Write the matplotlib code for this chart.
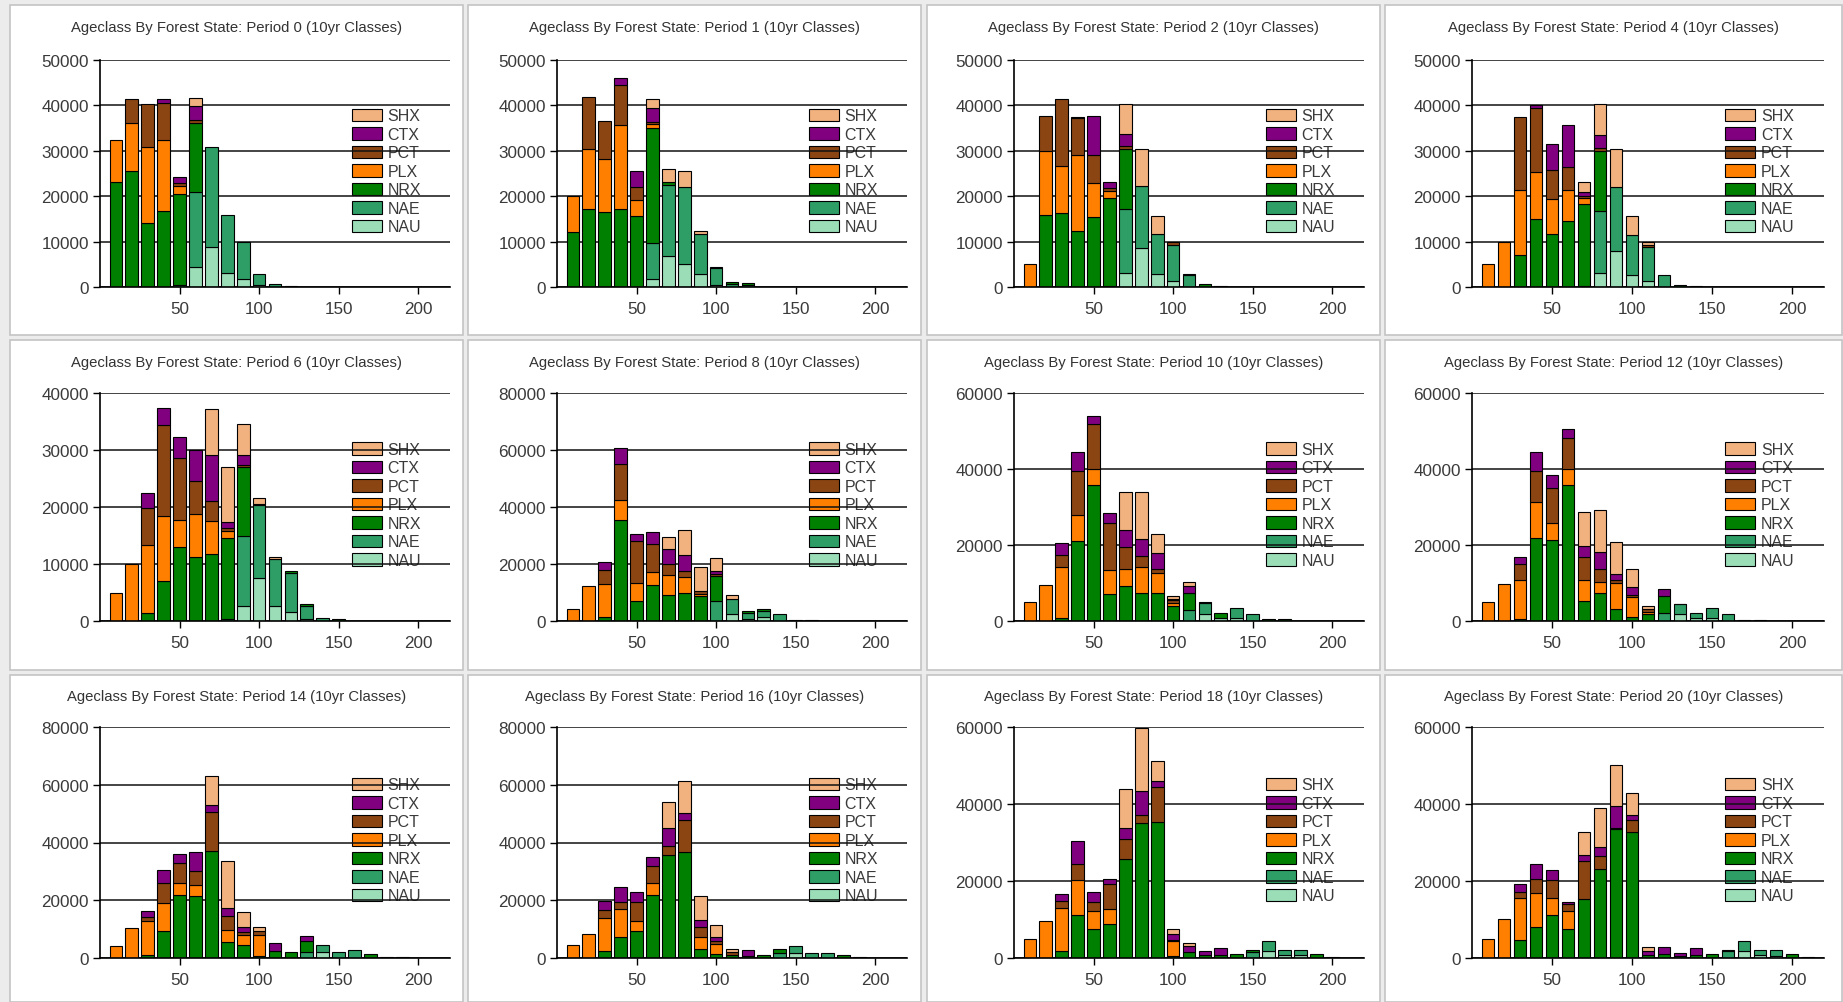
import numpy as np
import matplotlib
matplotlib.use("Agg")
import matplotlib.pyplot as plt
from matplotlib.patches import Patch, Rectangle
from matplotlib.ticker import FuncFormatter

plt.rcParams['font.family'] = ['Liberation Sans', 'DejaVu Sans']

# age classes (10yr) and forest state types, bottom of the stack first
AGES = np.arange(10, 220, 10)
TYPES = ["NAU", "NAE", "NRX", "PLX", "PCT", "CTX", "SHX"]
COLORS = {
    "SHX": "#F2B27F",
    "CTX": "#800080",
    "PCT": "#8B4513",
    "PLX": "#FF8000",
    "NRX": "#008000",
    "NAE": "#2E9E66",
    "NAU": "#9ADDB6",
}

# each row is one age class (10, 20, 30 ...): NAU, NAE, NRX, PLX, PCT, CTX, SHX
period_0 = [
    (0, 0, 23200, 9200),
    (0, 0, 25600, 10600, 5200),
    (0, 0, 14100, 16800, 9500),
    (0, 0, 16800, 15600, 8100, 900),
    (0, 400, 20100, 1700, 700, 1300),
    (4400, 16500, 15300, 0, 600, 3000, 1800),
    (8800, 22100),
    (3100, 12800),
    (1700, 8200),
    (400, 2500),
    (0, 600),
    (0, 0, 300),
]
period_1 = [
    (0, 0, 12100, 7900),
    (0, 0, 17100, 13400, 11400),
    (0, 0, 16500, 11700, 8300),
    (0, 0, 17100, 18600, 8700, 1600),
    (0, 0, 15600, 3500, 2900, 3600),
    (1700, 8000, 25300, 800, 600, 3100, 1900),
    (6800, 15700, 600, 0, 0, 0, 2900),
    (5100, 17000, 0, 0, 0, 0, 3500),
    (2900, 8700, 0, 0, 0, 0, 800),
    (400, 3800, 300),
    (0, 700, 400),
    (0, 500, 400),
]
period_2 = [
    (0, 0, 0, 5000),
    (0, 0, 15900, 14100, 7600),
    (0, 0, 16300, 10400, 14700),
    (0, 0, 12300, 16800, 8200, 200),
    (0, 0, 15400, 7500, 6200, 8600),
    (0, 300, 19400, 1400, 700, 1300),
    (3100, 14000, 13400, 0, 600, 2700, 6600),
    (8600, 13700, 0, 0, 0, 0, 8100),
    (2900, 8800, 0, 0, 0, 0, 3900),
    (1300, 7900, 0, 0, 700),
    (0, 2600, 300),
    (0, 0, 600),
    (0, 0, 300),
]
period_4 = [
    (0, 0, 0, 5000),
    (0, 0, 0, 9900),
    (0, 0, 7100, 14300, 16100),
    (0, 0, 15000, 10300, 14200, 500),
    (0, 0, 11700, 7700, 6400, 5800),
    (0, 0, 14600, 6800, 5100, 9200),
    (0, 300, 18000, 1300, 500, 900, 2100),
    (3100, 13700, 13200, 0, 700, 2800, 6900),
    (7900, 14200, 0, 0, 0, 0, 8300),
    (2600, 8900, 0, 0, 0, 0, 4100),
    (1300, 7500, 0, 0, 400, 0, 700),
    (0, 2600),
    (0, 0, 500),
    (0, 0, 200),
]
period_6 = [
    (0, 0, 0, 5000),
    (0, 0, 0, 10000),
    (0, 0, 1400, 11900, 6600, 2500),
    (0, 0, 7000, 11400, 15900, 3100),
    (0, 0, 13000, 4800, 10800, 3600),
    (0, 0, 11300, 7400, 5800, 5500),
    (0, 0, 11700, 5800, 3600, 8100, 8000),
    (0, 400, 14200, 1200, 600, 900, 9700),
    (2700, 12200, 12100, 0, 400, 1800, 5400),
    (7500, 12900, 0, 200, 0, 0, 1000),
    (2600, 8200, 0, 0, 0, 0, 500),
    (1600, 6900, 300),
    (400, 2200, 300),
    (0, 500),
    (0, 0, 300),
]
period_8 = [
    (0, 0, 0, 4300),
    (0, 0, 0, 12300),
    (0, 0, 1500, 11600, 4700, 3000),
    (0, 0, 35600, 6800, 12800, 5500),
    (0, 0, 7000, 6400, 14600, 2700),
    (0, 0, 12600, 4600, 9700, 4300),
    (0, 0, 9000, 7000, 4100, 5000, 4400),
    (0, 0, 9900, 5500, 2100, 5600, 8800),
    (0, 0, 8800, 800, 900, 0, 8400),
    (0, 7000, 8800, 0, 600, 1100, 4700),
    (2300, 5300, 0, 0, 0, 0, 1500),
    (600, 2300, 600),
    (1400, 2100, 800),
    (0, 2600),
    (0, 0, 500),
    (0, 0, 400),
]
period_10 = [
    (0, 0, 0, 5000),
    (0, 0, 0, 9600),
    (0, 0, 900, 13400, 3200, 2900),
    (0, 0, 21000, 7000, 11400, 5100),
    (0, 0, 35900, 4100, 11900, 2100),
    (0, 0, 7000, 6400, 12400, 2500),
    (0, 0, 9200, 4400, 5800, 4500, 10000),
    (0, 0, 7400, 6800, 2900, 4400, 12400),
    (0, 0, 7400, 5300, 1100, 4200, 4900),
    (0, 0, 3900, 900, 600, 300, 1000),
    (0, 2800, 4600, 0, 0, 1800, 1100),
    (1900, 2900, 300),
    (900, 0, 1300),
    (900, 2400),
    (0, 1900),
    (0, 0, 400),
    (0, 0, 400),
]
period_12 = [
    (0, 0, 0, 5000),
    (0, 0, 0, 9800),
    (0, 0, 400, 10300, 4400, 1800),
    (0, 0, 21900, 9400, 8100, 5100),
    (0, 0, 21200, 4500, 9200, 3400),
    (0, 0, 35900, 4100, 8200, 2400),
    (0, 0, 5300, 5500, 6100, 2800, 8900),
    (0, 0, 7400, 2900, 3500, 4300, 11200),
    (0, 0, 3200, 6900, 600, 1700, 8400),
    (0, 0, 1100, 5200, 500, 2100, 4700),
    (0, 0, 1900, 500, 700, 0, 800),
    (0, 2200, 4400, 0, 0, 1900),
    (1900, 2500, 200),
    (800, 1400),
    (800, 2500),
    (0, 1900),
    (0, 0, 300),
    (0, 0, 300),
]
period_14 = [
    (0, 0, 0, 4300),
    (0, 0, 0, 10400),
    (0, 0, 1200, 11500, 1500, 2200),
    (0, 0, 9500, 9500, 7000, 4400),
    (0, 0, 21900, 4100, 6900, 3200),
    (0, 0, 21400, 4000, 4600, 6700),
    (0, 0, 36900, 0, 13500, 2500, 10200),
    (0, 0, 5400, 4400, 4600, 2900, 16200),
    (0, 0, 4600, 3500, 800, 1800, 5100),
    (0, 0, 800, 7100, 1300, 0, 1500),
    (0, 0, 2300, 0, 0, 2900),
    (0, 0, 2000),
    (0, 2000, 3800, 0, 0, 1700),
    (2000, 2600),
    (0, 2000),
    (0, 2700),
    (0, 0, 1300),
    (0, 0, 400),
    (0, 0, 400),
]
period_16 = [
    (0, 0, 0, 4600),
    (0, 0, 0, 8300),
    (0, 0, 2300, 11600, 2600, 3100),
    (0, 0, 7300, 9700, 2300, 5300),
    (0, 0, 9200, 3500, 6700, 3300),
    (0, 0, 21700, 4300, 6000, 2900),
    (0, 0, 35800, 0, 2900, 6300, 8900),
    (0, 0, 36600, 0, 11100, 2500, 11000),
    (0, 0, 3100, 4200, 3300, 2400, 8400),
    (0, 0, 1500, 3500, 1000, 1200, 4300),
    (0, 0, 1200, 0, 1000, 0, 1000),
    (0, 0, 800, 0, 0, 2000),
    (0, 0, 1200),
    (0, 1600, 1500),
    (1700, 2600),
    (0, 1800),
    (0, 1800),
    (0, 0, 1000),
    (0, 0, 300),
]
period_18 = [
    (0, 0, 0, 4900),
    (0, 0, 0, 9500),
    (0, 0, 1700, 11300, 1900, 1800),
    (0, 0, 11100, 9200, 4200, 5800),
    (0, 0, 7600, 4500, 2400, 2600),
    (0, 0, 8900, 3800, 6600, 1200),
    (0, 0, 25700, 0, 5300, 2800, 10100),
    (0, 0, 35100, 0, 2100, 6100, 16400),
    (0, 0, 35300, 0, 9000, 1800, 5000),
    (0, 0, 600, 3700, 500, 1400, 1400),
    (0, 0, 1500, 0, 0, 1500, 900),
    (0, 0, 800, 0, 0, 900),
    (0, 0, 700, 0, 0, 2000),
    (0, 0, 1000),
    (0, 1500, 500),
    (1900, 2400),
    (800, 1200),
    (700, 1300),
    (0, 0, 1000),
    (0, 0, 300),
]
period_20 = [
    (0, 0, 0, 4900),
    (0, 0, 0, 10100),
    (0, 0, 4800, 10800, 1500, 2200),
    (0, 0, 8000, 8900, 3600, 3900),
    (0, 0, 11100, 4500, 4600, 2700),
    (0, 0, 7600, 4500, 2000, 500),
    (0, 0, 15300, 0, 10000, 1500, 5900),
    (0, 0, 23200, 0, 3200, 2400, 10200),
    (0, 0, 33500, 0, 300, 5600, 10800),
    (0, 0, 32600, 0, 3200, 1400, 5700),
    (0, 0, 900, 0, 0, 1000, 1000),
    (0, 0, 1000, 0, 0, 1900),
    (0, 0, 600, 0, 0, 800),
    (0, 0, 700, 0, 0, 1800),
    (0, 0, 1000),
    (0, 1700, 500),
    (1700, 2600),
    (800, 1400),
    (600, 1600),
    (0, 0, 1000),
    (0, 0, 300),
]

PERIODS = [0, 1, 2, 4, 6, 8, 10, 12, 14, 16, 18, 20]
PERIOD_DATA = [period_0, period_1, period_2, period_4, period_6, period_8,
               period_10, period_12, period_14, period_16, period_18, period_20]
Y_MAX = [50000, 50000, 50000, 50000, 40000, 80000, 60000, 60000, 80000, 80000, 60000, 60000]
Y_STEP = [10000, 10000, 10000, 10000, 10000, 20000, 20000, 20000, 20000, 20000, 20000, 20000]


def to_table(rows):
    """Pad the per-age rows into a full (age class x type) table"""
    table = np.zeros((len(AGES), len(TYPES)))
    for i, row in enumerate(rows):
        table[i, :len(row)] = row
    return table


W, H = 1843, 1003
fig = plt.figure(figsize=(W / 100, H / 100), dpi=100, facecolor='#ececec')

# panel frames and plot areas in pixels
panel_x = [(10, 463), (468, 921), (927, 1380), (1385, 1842)]
panel_y = [(6, 336), (341, 671), (676, 1003)]
axes_x = [(100, 450), (557, 907), (1014, 1364), (1472, 1824)]
axes_y = [(61, 288), (394, 622), (728, 959)]
title_y = [28, 363, 697]

for k, (period, rows) in enumerate(zip(PERIODS, PERIOD_DATA)):
    r, c = divmod(k, 4)
    px0, px1 = panel_x[c]
    py0, py1 = panel_y[r]
    fig.add_artist(Rectangle((px0 / W, 1 - py1 / H), (px1 - px0) / W, (py1 - py0) / H,
                             transform=fig.transFigure, facecolor='white',
                             edgecolor='#c4c4c4', lw=1.2, zorder=-5))
    fig.text((px0 + px1) / 2 / W, 1 - title_y[r] / H,
             f'Ageclass By Forest State: Period {period} (10yr Classes)',
             ha='center', va='center', fontsize=10.7, color='#333333')

    ax0, ax1 = axes_x[c]
    ay0, ay1 = axes_y[r]
    ax = fig.add_axes([ax0 / W, 1 - ay1 / H, (ax1 - ax0) / W, (ay1 - ay0) / H])
    ax.set_facecolor('none')

    table = to_table(rows)
    bottom = np.zeros(len(AGES))
    for j, t in enumerate(TYPES):
        vals = table[:, j]
        m = vals > 0
        ax.bar(AGES[m], vals[m], bottom=bottom[m], width=8, color=COLORS[t],
               edgecolor='black', linewidth=0.8, zorder=2)
        bottom += vals

    ax.set_xlim(0, 220)
    ax.set_ylim(0, Y_MAX[k])
    ax.set_xticks([50, 100, 150, 200])
    ax.set_yticks(np.arange(0, Y_MAX[k] + 1, Y_STEP[k]))
    ax.yaxis.set_major_formatter(FuncFormatter(lambda v, _: f'{int(v)}'))
    ax.tick_params(axis='both', direction='out', length=5, width=1, color='black',
                   labelsize=12.3, labelcolor='#3a3a3a')
    ax.tick_params(axis='y', pad=3)
    ax.tick_params(axis='x', pad=5)
    ax.grid(axis='y', color='#111111', lw=1.1, zorder=1)
    for side in ('top', 'right'):
        ax.spines[side].set_visible(False)
    for side in ('left', 'bottom'):
        ax.spines[side].set_color('black')
        ax.spines[side].set_linewidth(1.2)

    handles = [Patch(facecolor=COLORS[t], edgecolor='black', linewidth=0.8, label=t)
               for t in reversed(TYPES)]
    leg = ax.legend(handles=handles, loc='center left', bbox_to_anchor=(0.72, 0.509),
                    frameon=False, fontsize=11.5, labelcolor='#3a3a3a',
                    handlelength=1.87, handleheight=0.82, handletextpad=0.35,
                    labelspacing=0.22, borderpad=0, borderaxespad=0)
    leg.set_zorder(0.5)

fig.savefig('out.png', dpi=100, facecolor=fig.get_facecolor())
